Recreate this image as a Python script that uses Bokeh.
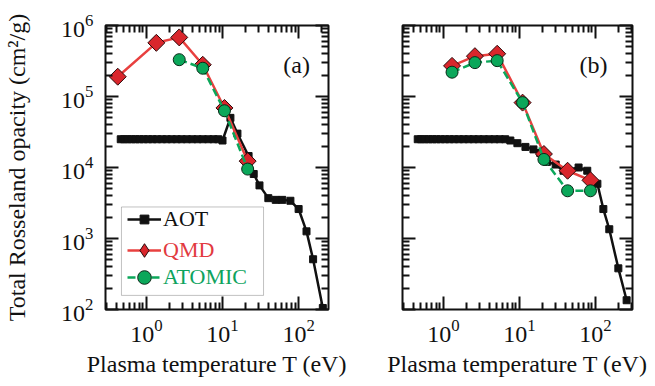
from bokeh.plotting import figure
from bokeh.layouts import row
from bokeh.models import (LogAxis, Range1d, Label, Legend, LegendItem, BoxAnnotation,
                          CustomJSTickFormatter, FixedTicker)
from bokeh.embed import file_html
from bokeh.resources import INLINE

# ---------------- data ----------------
# Panel (a)
a_aot_T = [0.46, 0.51, 0.57, 0.64, 0.72, 0.81, 0.92, 1.05, 1.2, 1.38, 1.6, 1.85, 2.15, 2.5,
           2.9, 3.4, 4.0, 4.7, 5.5, 6.5, 7.6, 8.8, 10.0, 12.7, 15.7, 22, 25.7, 30.6, 40, 50,
           61, 78, 100, 127, 155, 208]
a_aot_k = [2.5e4] * 22 + [2.4e4, 5.0e4, 3.0e4, 1.45e4, 8.1e3, 5.6e3, 3.7e3, 3.5e3,
                          3.5e3, 3.4e3, 2.6e3, 1.26e3, 510, 105]
a_qmd_T = [0.42, 1.35, 2.7, 5.5, 10.6, 21.4]
a_qmd_k = [1.9e5, 5.7e5, 6.8e5, 2.8e5, 6.9e4, 1.23e4]
a_atm_T = [2.7, 5.5, 10.6, 21.4]
a_atm_k = [3.3e5, 2.5e5, 6.3e4, 9.5e3]

# Panel (b)
b_aot_T = [0.46, 0.51, 0.57, 0.64, 0.72, 0.81, 0.92, 1.05, 1.2, 1.38, 1.6, 1.85, 2.15, 2.5,
           2.9, 3.4, 4.0, 4.7, 5.5, 6.5, 7.6, 9.4, 12, 15.3, 18.8, 23, 30, 38, 60, 78,
           106, 127, 152, 200, 257]
b_aot_k = [2.5e4] * 20 + [2.4e4, 2.2e4, 1.95e4, 1.8e4, 1.6e4, 1.2e4, 1.1e4, 9.0e3, 1.0e4,
                          9.0e3, 5.9e3, 2.6e3, 1.35e3, 380, 135]
b_qmd_T = [1.3, 2.6, 5.1, 11, 21, 43, 86]
b_qmd_k = [2.7e5, 3.7e5, 4.0e5, 8.2e4, 1.55e4, 9.0e3, 6.6e3]
b_atm_T = [1.3, 2.6, 5.1, 11, 21, 43, 86]
b_atm_k = [2.2e5, 3.0e5, 3.2e5, 8.2e4, 1.3e4, 4.7e3, 4.7e3]

series_names = ["AOT", "QMD", "ATOMIC"]
panel_tags = ["(a)", "(b)"]
x_title = "Plasma temperature T (eV)"
y_title = "Total Rosseland opacity (cm\u00b2/g)"

# log-axis tick positions (decades + 2..9 minor)
decades = [1e-1, 1e0, 1e1, 1e2, 1e3, 1e4, 1e5, 1e6]
minor_mult = [2, 3, 4, 5, 6, 7, 8, 9]
minor_pos = [m * d for d in decades for m in minor_mult]

FONT = "Liberation Serif"
BLACK = "#111111"
RED_LINE = "#e8403f"
RED_FILL = "#d9262c"
RED_EDGE = "#2a0a0a"
GREEN = "#0ba75a"
GREEN_EDGE = "#0a2a18"
GREEN_TXT = "#0ea35e"
RED_TXT = "#e23a3f"


def style_axis(ax, labels=True):
    ax.ticker = FixedTicker(ticks=decades, minor_ticks=minor_pos)
    ax.axis_line_color = None
    ax.major_tick_in = 13
    ax.major_tick_out = 0
    ax.minor_tick_in = 7
    ax.minor_tick_out = 0
    ax.major_tick_line_width = 2
    ax.minor_tick_line_width = 2
    ax.major_tick_line_color = BLACK
    ax.minor_tick_line_color = BLACK
    ax.major_label_text_font = FONT
    ax.major_label_text_color = BLACK
    ax.major_label_text_font_size = "24px"
    ax.axis_label_text_font = FONT
    ax.axis_label_text_font_style = "normal"
    ax.axis_label_text_color = BLACK
    ax.axis_label_text_font_size = "24px"
    if not labels:
        ax.formatter = CustomJSTickFormatter(code="return '';")
        ax.major_label_standoff = 0


def make_panel(xmax, frame_w, bl, br, show_y,
               aot_T, aot_k, qmd_T, qmd_k, atm_T, atm_k, tag, with_legend):
    p = figure(x_axis_type="log", y_axis_type="log",
               x_range=Range1d(0.29, xmax), y_range=Range1d(100, 1e6),
               frame_width=frame_w, frame_height=284,
               min_border_left=bl, min_border_right=br,
               min_border_top=25, min_border_bottom=75,
               output_backend="svg", toolbar_location=None)
    p.grid.visible = False
    p.outline_line_color = BLACK
    p.outline_line_width = 2
    p.background_fill_color = "white"
    p.border_fill_color = "white"

    style_axis(p.xaxis[0])
    p.xaxis[0].axis_label = x_title
    p.xaxis[0].major_label_standoff = 10
    p.xaxis[0].axis_label_standoff = 6
    style_axis(p.yaxis[0], labels=show_y)
    if show_y:
        p.yaxis[0].axis_label = y_title
        p.yaxis[0].major_label_standoff = 12
        p.yaxis[0].axis_label_standoff = 28

    top = LogAxis()
    style_axis(top, labels=False)
    p.add_layout(top, "above")
    right = LogAxis()
    style_axis(right, labels=False)
    p.add_layout(right, "right")

    l1 = p.line(aot_T, aot_k, line_color=BLACK, line_width=2.5)
    s1 = p.scatter(aot_T, aot_k, marker="square", size=7, fill_color=BLACK, line_color=BLACK)
    l2 = p.line(qmd_T, qmd_k, line_color=RED_LINE, line_width=2.5)
    # diamond marker used for the legend swatch; hidden under the rotated squares
    d2 = p.scatter(qmd_T, qmd_k, marker="diamond", size=12,
                   fill_color=RED_FILL, line_color=RED_EDGE, line_width=1)
    s2 = p.scatter(qmd_T, qmd_k, marker="square", angle=0.785398, size=12,
                   fill_color=RED_FILL, line_color=RED_EDGE, line_width=1)
    l3 = p.line(atm_T, atm_k, line_color=GREEN, line_width=2.5, line_dash="8 4")
    s3 = p.scatter(atm_T, atm_k, marker="circle", size=12,
                   fill_color=GREEN, line_color=GREEN_EDGE, line_width=1)

    p.add_layout(Label(x=94, y=2.8e5, text=tag, text_font=FONT, text_font_size="24px",
                       text_color=BLACK, text_align="center", text_baseline="middle"))

    if with_legend:
        box = BoxAnnotation(left=0.47, right=34.6, bottom=158, top=2780,
                            fill_color="white", fill_alpha=1.0,
                            line_color="#333333", line_width=1, level="overlay")
        p.add_layout(box)
        entries = [(series_names[0], [l1, s1], BLACK, 77, 22),
                   (series_names[1], [l2, d2], RED_TXT, 42, 34),
                   (series_names[2], [l3, s3], GREEN_TXT, 15, 34)]
        for name, rends, col, yoff, gh in entries:
            lg = Legend(items=[LegendItem(label=name, renderers=rends)],
                        location=(22, yoff), padding=0, margin=0, spacing=0,
                        border_line_color=None, background_fill_alpha=0,
                        glyph_width=34, glyph_height=gh, label_height=20,
                        label_standoff=2, label_text_font=FONT,
                        label_text_font_size="22px", label_text_color=col)
            p.add_layout(lg)
    return p


pa = make_panel(247, 223, 105, 22, True, a_aot_T, a_aot_k, a_qmd_T, a_qmd_k,
                a_atm_T, a_atm_k, panel_tags[0], True)
pb = make_panel(307, 230, 52, 23, False, b_aot_T, b_aot_k, b_qmd_T, b_qmd_k,
                b_atm_T, b_atm_k, panel_tags[1], False)

layout = row(pa, pb, spacing=0)
open("out.html", "w").write(file_html(layout, INLINE))
